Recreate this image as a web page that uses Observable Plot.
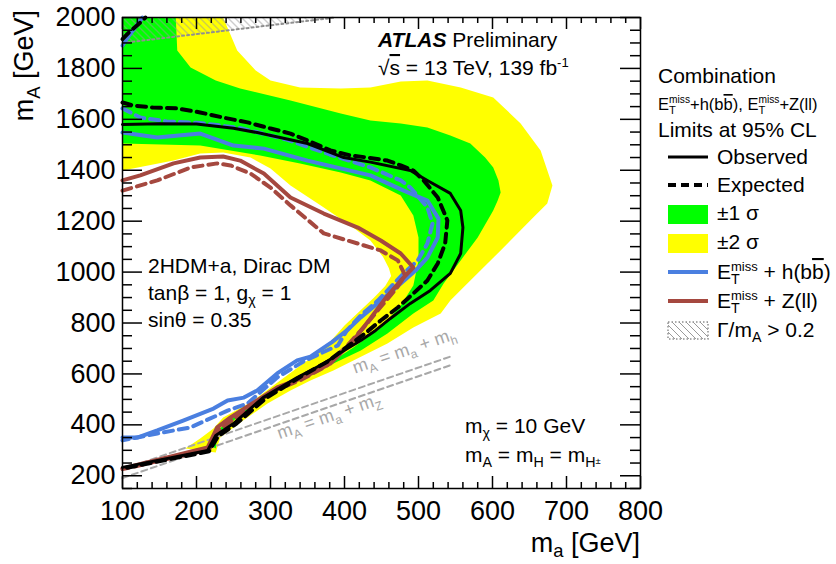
<!DOCTYPE html>
<html>
<head>
<meta charset="utf-8">
<script src="https://cdn.jsdelivr.net/npm/d3@7"></script>
<script src="https://cdn.jsdelivr.net/npm/@observablehq/plot@0.6"></script>
<style>
  body { margin: 0; background: #fff; }
  #chart { width: 836px; height: 564px; }
  svg text { white-space: pre; }
</style>
</head>
<body>
<div id="chart"></div>
<script>
// 2HDM+a exclusion contours in the (m_a, m_A) plane, ATLAS combination of
// E_T^miss + h(bb) and E_T^miss + Z(ll), limits at 95% CL.

// ---- axes ----
const xDomain = [100, 800];   // m_a [GeV]
const yDomain = [150, 2000];  // m_A [GeV]
const xMajor = [100, 200, 300, 400, 500, 600, 700, 800];
const yMajor = [200, 400, 600, 800, 1000, 1200, 1400, 1600, 1800, 2000];

// ---- expected-limit uncertainty bands (closed outlines, [m_a, m_A]) ----
const band2sigma = [[100,2000],[236,2000],[255,1870],[280,1792],[300,1753],[340,1725],[395,1721],[435,1725],[476,1749],[512,1753],[557,1725],[601,1686],[638,1584],[665,1478],[681,1340],[674,1269],[655,1214],[611,1085],[566,955],[543,888],[530,837],[493,782],[458,720],[412,653],[385,613],[354,574],[327,535],[296,484],[263,417],[232,350],[226,291],[185,307],[205,346],[223,386],[236,429],[273,488],[309,565],[340,632],[372,698],[400,790],[420,845],[440,900],[455,945],[463,985],[460,1015],[452,1060],[435,1124],[408,1183],[368,1262],[327,1340],[300,1407],[273,1450],[236,1470],[205,1466],[169,1438],[100,1399]];
const band1sigma = [[100,2000],[172,2000],[174,1870],[192,1804],[226,1753],[259,1721],[327,1674],[395,1623],[435,1595],[476,1584],[512,1568],[543,1537],[570,1505],[590,1450],[601,1411],[608,1360],[611,1313],[607,1281],[601,1242],[580,1136],[557,1046],[534,955],[520,888],[493,837],[458,759],[422,692],[385,641],[354,602],[318,547],[282,484],[250,417],[228,358],[226,307],[219,319],[226,370],[246,425],[282,496],[313,543],[345,586],[381,645],[412,704],[449,782],[476,869],[493,947],[500,1046],[500,1136],[493,1222],[476,1301],[435,1360],[395,1391],[340,1427],[286,1458],[205,1497],[100,1505]];

// ---- combined limits ----
const observed = [[100,1580],[150,1583],[200,1582],[250,1565],[282,1548],[350,1505],[399,1450],[435,1432],[489,1399],[512,1360],[543,1309],[557,1242],[560,1175],[557,1073],[543,995],[516,928],[489,877],[462,818],[442,771],[422,731],[395,684],[372,641],[336,586],[290,507],[250,405],[226,358],[215,299],[100,233]];
const expected = [[100,1666],[115,1654],[142,1646],[174,1643],[205,1627],[236,1607],[269,1588],[300,1564],[327,1544],[350,1517],[381,1478],[408,1458],[431,1450],[458,1438],[476,1419],[493,1399],[507,1360],[526,1293],[539,1203],[536,1112],[526,1034],[512,967],[493,916],[472,861],[449,810],[426,755],[405,710],[378,650],[340,588],[294,505],[254,405],[229,355],[217,296],[100,228]];
const expectedCorner = [[100,1915],[110,1945],[124,1980],[131,2000]];

// ---- individual channels ----
const bbObserved = [[100,1548],[147,1529],[205,1544],[250,1497],[291,1485],[350,1438],[435,1380],[480,1320],[512,1281],[527,1210],[526,1136],[512,1057],[496,1006],[476,955],[449,888],[422,822],[405,775],[383,725],[354,668],[336,653],[309,602],[282,535],[264,507],[242,496],[223,464],[182,417],[147,378],[120,350],[100,350]];
const bbExpected = [[100,1643],[124,1607],[160,1592],[205,1586],[260,1565],[320,1522],[380,1462],[435,1411],[476,1360],[489,1332],[512,1254],[519,1191],[512,1112],[499,1046],[480,995],[462,940],[445,888],[422,830],[403,770],[391,712],[345,650],[309,586],[269,484],[242,456],[192,390],[147,366],[100,339]];
const bbObservedCorner = [[100,1890],[107,1921],[124,1988],[127,2000]];
const zllObserved = [[100,1360],[124,1380],[169,1427],[205,1450],[236,1454],[259,1438],[291,1387],[327,1293],[372,1230],[418,1175],[449,1124],[476,1073],[493,1018],[476,967],[455,896],[435,818],[412,731],[381,641],[345,586],[309,547],[282,496],[246,429],[228,390],[215,311],[100,229]];
const zllExpected = [[100,1320],[147,1360],[192,1411],[228,1427],[246,1419],[273,1387],[300,1332],[327,1262],[372,1152],[418,1112],[449,1085],[472,1046],[482,987],[470,935],[448,860],[428,790],[405,715],[376,632],[342,578],[306,535],[280,485],[248,418],[230,380],[217,303],[100,226]];

// ---- large-width region Γ/m_A > 0.2 ----
const wideBoundary = [[100,1900],[388,2000]];
const wideRegion = [[100,1900],[388,2000],[100,2000]];

// ---- kinematic thresholds m_A = m_a + m_h and m_A = m_a + m_Z ----
const thresholdH = [[100,225],[547,672]];
const thresholdZ = [[100,191],[547,638]];

// ---- style ----
const FONT = "'Liberation Sans', Arial, Helvetica, sans-serif";
const GREEN = "#00ff00", YELLOW = "#ffff00", BLUE = "#4a7fe0", BROWN = "#a5483f", GREY = "#a8a8a8";
const W = 836, H = 564, mL = 122, mR = 196, mT = 17, mB = 76;
const kx = (W - mL - mR) / (xDomain[1] - xDomain[0]);
const ky = (H - mT - mB) / (yDomain[1] - yDomain[0]);

const xMinor = d3.range(xDomain[0], xDomain[1] + 1, 20).filter(v => v % 100);
const yMinor = d3.range(yDomain[0], yDomain[1] + 1, 50).filter(v => v % 200);

const X = d => d[0], Y = d => d[1];
const curve = (data, o) => Plot.line(data, {x: X, y: Y, ...o});

// ticks drawn inside the frame, lengths given in pixels
const tickMarks = [];
for (const [vals, len] of [[xMajor, 12], [xMinor, 6]]) {
  tickMarks.push(Plot.ruleX(vals, {x: d => d, y1: yDomain[0], y2: yDomain[0] + len / ky, stroke: "black", strokeWidth: 1.5}));
  tickMarks.push(Plot.ruleX(vals, {x: d => d, y1: yDomain[1], y2: yDomain[1] - len / ky, stroke: "black", strokeWidth: 1.5}));
}
for (const [vals, len] of [[yMajor, 20], [yMinor, 10]]) {
  tickMarks.push(Plot.ruleY(vals, {y: d => d, x1: xDomain[0], x2: xDomain[0] + len / kx, stroke: "black", strokeWidth: 1.5}));
  tickMarks.push(Plot.ruleY(vals, {y: d => d, x1: xDomain[1], x2: xDomain[1] - len / kx, stroke: "black", strokeWidth: 1.5}));
}

const plot = Plot.plot({
  width: W, height: H,
  marginLeft: mL, marginRight: mR, marginTop: mT, marginBottom: mB,
  x: {domain: xDomain, ticks: xMajor, tickSize: 0, tickPadding: 12, tickFormat: d3.format("d"), label: null},
  y: {domain: yDomain, ticks: yMajor, tickSize: 0, tickPadding: 7, tickFormat: d3.format("d"), label: null},
  style: {fontFamily: FONT, fontSize: "27px", color: "black", background: "white", overflow: "visible"},
  marks: [
    curve(band2sigma, {fill: YELLOW, stroke: "none"}),
    curve(band1sigma, {fill: GREEN, stroke: "none"}),
    curve(wideRegion, {fill: "url(#hatch)", stroke: "none"}),
    curve(wideBoundary, {stroke: "#909090", strokeWidth: 2, strokeDasharray: "2,3"}),
    curve(thresholdH, {stroke: GREY, strokeWidth: 2, strokeDasharray: "6,4"}),
    curve(thresholdZ, {stroke: GREY, strokeWidth: 2, strokeDasharray: "6,4"}),
    curve(bbExpected, {stroke: BLUE, strokeWidth: 4, strokeDasharray: "9,6"}),
    curve(bbObserved, {stroke: BLUE, strokeWidth: 4}),
    curve(bbObservedCorner, {stroke: BLUE, strokeWidth: 4}),
    curve(zllExpected, {stroke: BROWN, strokeWidth: 4, strokeDasharray: "9,6"}),
    curve(zllObserved, {stroke: BROWN, strokeWidth: 4}),
    curve(expected, {stroke: "black", strokeWidth: 4, strokeDasharray: "9,6"}),
    curve(expectedCorner, {stroke: "black", strokeWidth: 4, strokeDasharray: "9,6"}),
    curve(observed, {stroke: "black", strokeWidth: 3}),
    ...tickMarks,
    Plot.frame({stroke: "black", strokeWidth: 1.5})
  ]
});

document.getElementById("chart").append(plot);
const svg = d3.select(plot);
const sx = plot.scale("x"), sy = plot.scale("y");

// hatch pattern for the Γ/m_A > 0.2 region
const pat = svg.insert("defs", ":first-child").append("pattern")
  .attr("id", "hatch").attr("patternUnits", "userSpaceOnUse").attr("width", 7).attr("height", 7);
pat.append("path").attr("d", "M0,0L7,7M-2,5L2,9M5,-2L9,2")
  .attr("stroke", "#9a9a9a").attr("stroke-width", 1).attr("fill", "none");

// text with sub/superscripts; tokens are strings or {t, dy, fs, bold, italic, over} or {stack:[...]}
function rich(parent, x, y, tokens, size, o = {}) {
  const g = parent.append("g").attr("font-family", FONT).attr("text-anchor", "start")
    .attr("fill", o.fill || "black");
  const inner = g.append("g");
  let cx = 0;
  const put = tk => {
    const t = inner.append("text").attr("x", cx).attr("y", (tk.dy || 0) * size)
      .attr("text-anchor", "start").attr("font-size", (tk.fs || 1) * size).text(tk.t);
    if (tk.bold) t.attr("font-weight", "bold");
    if (tk.italic) t.attr("font-style", "italic");
    if (tk.over) t.attr("text-decoration", "overline");
    return t.node().getComputedTextLength();
  };
  for (const raw of tokens) {
    const tk = typeof raw === "string" ? {t: raw} : raw;
    cx += tk.stack ? Math.max(...tk.stack.map(put)) : put(tk);
  }
  const shift = o.anchor === "end" ? cx : o.anchor === "middle" ? cx / 2 : 0;
  g.attr("transform", `translate(${x},${y}) rotate(${o.rotate || 0})`);
  inner.attr("transform", `translate(${-shift},0)`);
  return cx;
}
const SUP = t => ({t, dy: -0.4, fs: 0.62});
const SUB = t => ({t, dy: 0.26, fs: 0.68});
const ETMISS = ["E", {stack: [SUP("miss"), SUB("T")]}];

// axis titles
rich(svg, 640, 552, ["m", {t: "a", dy: 0.2, fs: 0.68}, " [GeV]"], 27, {anchor: "end"});
rich(svg, 33, 10, ["m", SUB("A"), " [GeV]"], 27, {anchor: "end", rotate: -90});

// annotations
rich(svg, 378, 47, [{t: "ATLAS", bold: true, italic: true}, " Preliminary"], 21);
rich(svg, 378, 75, ["\u221a", {t: "s", over: true}, " = 13 TeV, 139 fb", SUP("-1")], 21);
rich(svg, 148, 273, ["2HDM+a, Dirac DM"], 21);
rich(svg, 148, 300, ["tan\u03b2 = 1, g", SUB("\u03c7"), " = 1"], 21);
rich(svg, 148, 327, ["sin\u03b8 = 0.35"], 21);
rich(svg, 465, 433, ["m", SUB("\u03c7"), " = 10 GeV"], 21);
rich(svg, 465, 462, ["m", SUB("A"), " = m", SUB("H"), " = m", SUB("H"), {t: "\u00b1", dy: 0.1, fs: 0.45}], 21);

// threshold labels, rotated along their lines
const px = d => [sx.apply(d[0]), sy.apply(d[1])];
const angle = (a, b) => Math.atan2(px(b)[1] - px(a)[1], px(b)[0] - px(a)[0]) * 180 / Math.PI;
const [hx, hy] = px([415, 415 + 125]);
rich(svg, hx, hy - 15, ["m", SUB("A"), " = m", SUB("a"), " + m", SUB("h")], 18, {fill: GREY, rotate: angle(...thresholdH)});
const [zx, zy] = px([313, 313 + 91]);
rich(svg, zx, zy + 16, ["m", SUB("A"), " = m", SUB("a"), " + m", SUB("Z")], 18, {fill: GREY, rotate: angle(...thresholdZ)});

// legend
const lg = svg.append("g");
const LX = 658, SX0 = 668, SX1 = 708, TX = 717;
rich(lg, LX, 83, ["Combination"], 21);
rich(lg, LX, 110, [...ETMISS, "+h(b", {t: "b", over: true}, "), ", ...ETMISS, "+Z(ll)"], 16.5);
rich(lg, LX, 137, ["Limits at 95% CL"], 21);
const row = {obs: 164, exp: 192, s1: 220, s2: 249, bb: 279, zll: 308, wide: 337};
const sample = (yb, stroke, width, dash) => lg.append("line")
  .attr("x1", SX0).attr("x2", SX1).attr("y1", yb - 7).attr("y2", yb - 7)
  .attr("stroke", stroke).attr("stroke-width", width).attr("stroke-dasharray", dash || null);
sample(row.obs, "black", 3);
sample(row.exp, "black", 4, "8,5");
lg.append("rect").attr("x", SX0).attr("y", row.s1 - 15).attr("width", SX1 - SX0).attr("height", 19).attr("fill", GREEN);
lg.append("rect").attr("x", SX0).attr("y", row.s2 - 15).attr("width", SX1 - SX0).attr("height", 19).attr("fill", YELLOW);
sample(row.bb, BLUE, 4);
sample(row.zll, BROWN, 4);
lg.append("rect").attr("x", SX0).attr("y", row.wide - 15).attr("width", SX1 - SX0).attr("height", 17)
  .attr("fill", "url(#hatch)").attr("stroke", "#909090").attr("stroke-width", 1.5).attr("stroke-dasharray", "1.5,2");
rich(lg, TX, row.obs, ["Observed"], 21);
rich(lg, TX, row.exp, ["Expected"], 21);
rich(lg, TX, row.s1, ["\u00b11 \u03c3"], 21);
rich(lg, TX, row.s2, ["\u00b12 \u03c3"], 21);
rich(lg, TX, row.bb, [...ETMISS, " + h(b", {t: "b", over: true}, ")"], 21);
rich(lg, TX, row.zll, [...ETMISS, " + Z(ll)"], 21);
rich(lg, TX, row.wide, ["\u0393/m", SUB("A"), " > 0.2"], 21);
</script>
</body>
</html>
